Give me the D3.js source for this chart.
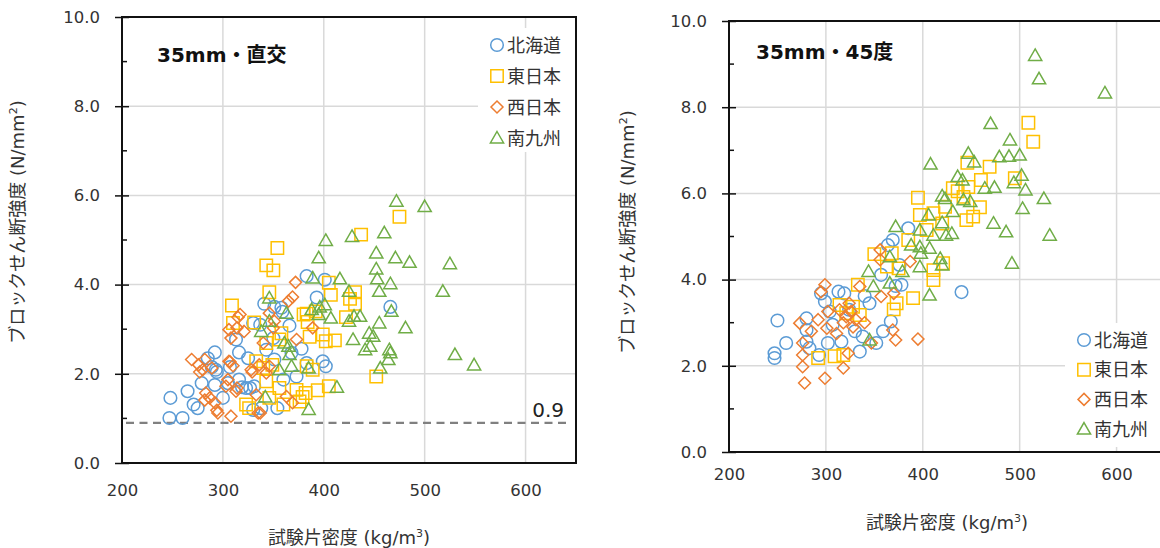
<!DOCTYPE html>
<html>
<head>
<meta charset="utf-8">
<script src="https://cdn.jsdelivr.net/npm/d3@7"></script>
<style>
  body { margin: 0; background: #fff; }
  svg { display: block; }
</style>
</head>
<body>
<div class="container"></div>
<script>
var w = 1160;
var h = 548;

var seriesNames = ["北海道", "東日本", "西日本", "南九州"];
var seriesColors = ["#5B9BD5", "#FFC000", "#ED7D31", "#70AD47"];
var seriesShapes = ["circle", "square", "diamond", "triangle"];

var xTicks = [200, 300, 400, 500, 600];
var yTicks = [0, 2, 4, 6, 8, 10];
var yMinorTicks = [1, 3, 5, 7, 9];
var limitValue = 0.9;

// 35mm・直交  [密度, 強度]
var leftHokkaido = [[383,4.19],[401,4.11],[393,3.71],[341,3.57],[351,3.50],[358,3.48],[466,3.50],[366,3.08],[330,3.14],[337,3.10],[313,2.77],[316,2.48],[292,2.48],[285,2.35],[293,2.09],[289,2.15],[294,2.04],[279,1.79],[265,1.61],[248,1.46],[247,1.01],[260,1.01],[271,1.31],[275,1.23],[300,1.46],[305,1.79],[316,1.87],[323,1.68],[331,1.72],[338,1.23],[354,1.23],[378,2.56],[399,2.28],[402,2.17],[383,2.24],[373,1.94],[351,2.32],[343,2.54],[350,2.80],[325,2.35],[307,2.15],[360,1.87],[368,2.47],[292,1.75],[330,1.19],[327,1.68],[319,1.70],[359,3.39]];
var leftEast = [[475,5.52],[437,5.12],[354,4.82],[343,4.43],[350,4.32],[346,3.83],[309,3.53],[405,4.04],[407,3.77],[431,3.83],[426,3.68],[431,3.57],[383,3.35],[392,3.40],[422,3.27],[386,2.83],[399,2.88],[402,2.73],[411,2.75],[452,1.94],[331,3.15],[310,3.14],[358,2.91],[356,2.77],[343,2.69],[333,2.28],[340,2.13],[343,1.83],[356,1.68],[373,1.64],[382,1.57],[394,1.63],[405,1.72],[323,1.31],[326,1.23],[346,1.46],[360,1.31],[376,1.38],[349,2.20],[383,2.17],[389,2.09],[380,3.33],[379,1.48],[384,3.16]];
var leftWest = [[372,4.05],[369,3.72],[365,3.63],[317,3.33],[306,2.99],[308,2.80],[314,3.03],[321,2.95],[346,3.36],[351,3.18],[350,3.03],[340,2.69],[373,2.77],[389,3.03],[269,2.32],[276,2.20],[282,2.32],[280,2.09],[289,2.13],[306,2.28],[310,2.18],[328,2.09],[336,2.20],[346,2.17],[343,2.02],[305,1.87],[303,1.72],[313,1.61],[283,1.57],[287,1.46],[292,1.35],[294,1.18],[308,1.05],[333,1.53],[335,1.12],[363,1.49],[369,1.35],[277,2.04],[307,2.27],[315,3.27],[314,1.68],[329,2.04],[337,1.12],[295,1.12],[282,1.41]];
var leftSouth = [[472,5.87],[500,5.75],[460,5.16],[428,5.08],[402,4.99],[452,4.71],[471,4.60],[485,4.50],[525,4.47],[395,4.60],[452,4.35],[453,4.13],[466,4.02],[455,3.85],[518,3.85],[416,4.13],[389,4.15],[425,3.85],[346,3.70],[467,3.40],[388,3.44],[395,3.33],[401,3.55],[407,3.25],[430,3.29],[436,3.29],[425,3.18],[363,3.36],[346,3.18],[338,2.95],[455,3.14],[481,3.03],[429,2.77],[445,2.91],[449,2.84],[441,2.54],[446,2.62],[465,2.54],[466,2.47],[464,2.32],[365,2.62],[366,2.43],[356,2.09],[368,2.17],[385,2.13],[530,2.43],[549,2.20],[456,2.13],[413,1.70],[342,1.48],[385,1.20],[361,2.69],[396,3.50]];

// 35mm・45度
var rightHokkaido = [[385,5.19],[369,4.92],[364,4.80],[376,4.34],[378,3.88],[440,3.71],[357,4.11],[295,3.68],[313,3.72],[319,3.68],[299,3.49],[304,3.26],[345,3.45],[250,3.05],[280,3.10],[280,2.83],[259,2.53],[247,2.29],[247,2.18],[280,2.56],[283,2.41],[293,2.25],[302,2.53],[316,2.56],[335,2.33],[338,2.68],[352,2.53],[359,2.80],[367,3.03],[307,2.95],[340,3.62],[324,3.30],[330,2.80],[372,3.85]];
var rightEast = [[509,7.64],[514,7.20],[446,6.71],[469,6.62],[495,6.35],[460,6.31],[431,6.12],[447,6.15],[442,5.92],[395,5.90],[459,5.68],[423,5.69],[452,5.46],[445,5.38],[397,5.50],[411,5.54],[385,4.92],[404,5.15],[350,4.59],[368,4.61],[363,4.30],[375,4.26],[421,4.38],[411,4.22],[411,3.99],[390,3.57],[333,3.88],[373,3.45],[370,3.31],[314,3.41],[328,3.37],[321,3.22],[335,3.18],[292,2.18],[309,2.22],[318,2.25],[436,6.05],[420,5.30]];
var rightWest = [[299,3.88],[295,3.72],[302,3.26],[273,2.99],[292,3.07],[301,2.87],[276,2.53],[276,2.25],[276,1.98],[278,1.60],[299,1.71],[318,1.95],[323,2.29],[314,3.30],[321,3.14],[326,3.26],[331,3.07],[335,3.84],[356,4.69],[356,4.46],[387,4.42],[357,3.61],[369,2.83],[372,2.60],[395,2.62],[347,2.53],[370,3.68],[318,3.00],[328,2.90],[311,2.75],[324,3.45],[340,3.00],[285,2.80]];
var rightSouth = [[516,9.20],[520,8.66],[588,8.33],[470,7.62],[490,7.24],[500,6.89],[489,6.86],[479,6.85],[447,6.93],[453,6.73],[408,6.68],[502,6.42],[494,6.25],[436,6.39],[441,6.31],[464,6.12],[474,6.14],[506,6.08],[525,5.88],[420,5.94],[423,5.88],[442,5.85],[449,5.81],[503,5.65],[431,5.58],[406,5.50],[420,5.32],[473,5.31],[486,5.11],[531,5.03],[372,5.23],[397,5.15],[411,5.03],[424,5.03],[430,5.07],[388,4.80],[397,4.76],[407,4.73],[366,4.53],[398,4.61],[418,4.49],[420,4.34],[397,4.30],[379,4.19],[344,4.19],[366,3.92],[349,3.84],[492,4.38],[407,3.64],[345,2.60]];

var font = "'DejaVu Sans', 'Noto Sans CJK JP', sans-serif";

function markerPath(shape) {
  if (shape === "circle") {
    var r = 6.3;
    return "M" + r + ",0A" + r + "," + r + " 0 1,1 " + (-r) + ",0A" + r + "," + r + " 0 1,1 " + r + ",0Z";
  }
  if (shape === "square") {
    var s = 6.2;
    return "M" + (-s) + "," + (-s) + "H" + s + "V" + s + "H" + (-s) + "Z";
  }
  if (shape === "diamond") {
    var d = 6;
    return "M0," + (-d) + "L" + d + ",0L0," + d + "L" + (-d) + ",0Z";
  }
  // triangle
  return "M0,-6.5L6.6,5L-6.6,5Z";
}

var svg = d3.select(".container").append("svg")
  .attr("width", w)
  .attr("height", h)
  .attr("viewBox", `0 0 ${w} ${h}`);

svg.append("rect").attr("width", w).attr("height", h).attr("fill", "#fff");

var clip = svg.append("defs").append("clipPath").attr("id", "page")
  .append("rect").attr("width", w).attr("height", h);

function drawPanel(cfg) {
  var g = svg.append("g").attr("clip-path", "url(#page)");

  var x = d3.scaleLinear().domain([200, 650]).range([cfg.left, cfg.right]);
  var y = d3.scaleLinear().domain([0, 10]).range([cfg.bottom, cfg.top]);

  // grid
  g.append("g").selectAll("line").data(xTicks.slice(1)).enter().append("line")
    .attr("x1", d => x(d)).attr("x2", d => x(d))
    .attr("y1", cfg.top).attr("y2", cfg.bottom)
    .attr("stroke", "#D9D9D9").attr("stroke-width", 1.5);
  g.append("g").selectAll("line").data(yTicks.slice(1, -1)).enter().append("line")
    .attr("x1", cfg.left).attr("x2", cfg.right)
    .attr("y1", d => y(d)).attr("y2", d => y(d))
    .attr("stroke", "#D9D9D9").attr("stroke-width", 1.5);

  // legend background (hides grid)
  g.append("rect")
    .attr("x", cfg.legendX - 19).attr("y", cfg.legendY - 17)
    .attr("width", 97).attr("height", 124)
    .attr("fill", "#fff");

  // limit line
  if (cfg.limit) {
    g.append("line")
      .attr("x1", cfg.left + 4).attr("x2", cfg.right - 5)
      .attr("y1", y(limitValue)).attr("y2", y(limitValue))
      .attr("stroke", "#808080").attr("stroke-width", 2.2)
      .attr("stroke-dasharray", "8,5.5");
    g.append("text")
      .attr("x", cfg.right - 12).attr("y", y(limitValue) - 6)
      .attr("text-anchor", "end")
      .attr("font-family", font).attr("font-size", 20)
      .attr("fill", "#222")
      .text(limitValue.toFixed(1));
  }

  // points
  cfg.series.forEach(function (data, i) {
    g.append("g").selectAll("path").data(data).enter().append("path")
      .attr("d", markerPath(seriesShapes[i]))
      .attr("transform", d => `translate(${x(d[0])},${y(d[1])})`)
      .attr("fill", "none")
      .attr("stroke", seriesColors[i])
      .attr("stroke-width", 1.5);
  });

  // frame
  g.append("rect")
    .attr("x", cfg.left).attr("y", cfg.top)
    .attr("width", cfg.right - cfg.left).attr("height", cfg.bottom - cfg.top)
    .attr("fill", "none").attr("stroke", "#111").attr("stroke-width", 2);

  // y axis
  var yAxis = d3.axisLeft(y).tickValues(yTicks).tickSizeInner(7).tickSizeOuter(0)
    .tickPadding(15).tickFormat(d3.format(".1f"));
  var ya = g.append("g").attr("transform", `translate(${cfg.left},0)`).call(yAxis);
  ya.select(".domain").remove();
  ya.selectAll(".tick line").attr("x1", 7).attr("stroke", "#111").attr("stroke-width", 1.5);
  ya.selectAll(".tick text").attr("font-family", font).attr("font-size", 16.5).attr("fill", "#333");

  g.append("g").selectAll("line").data(yMinorTicks).enter().append("line")
    .attr("x1", cfg.left).attr("x2", cfg.left + 5)
    .attr("y1", d => y(d)).attr("y2", d => y(d))
    .attr("stroke", "#111").attr("stroke-width", 1.5);

  // x axis
  var xAxis = d3.axisBottom(x).tickValues(xTicks).tickSize(0).tickPadding(cfg.xPad);
  var xa = g.append("g").attr("transform", `translate(0,${cfg.bottom})`).call(xAxis);
  xa.select(".domain").remove();
  xa.selectAll(".tick text").attr("font-family", font).attr("font-size", 16.5).attr("fill", "#333");

  // axis titles
  var xt = g.append("text")
    .attr("x", (cfg.left + cfg.right) / 2).attr("y", cfg.xTitleY)
    .attr("text-anchor", "middle")
    .attr("font-family", font).attr("font-size", 18).attr("fill", "#333");
  xt.append("tspan").text("試験片密度 (kg/m");
  xt.append("tspan").attr("font-size", 11).attr("dy", -7).text("3");
  xt.append("tspan").attr("dy", 7).text(")");

  var yt = g.append("text")
    .attr("transform", `translate(${cfg.yTitleX},${cfg.yTitleY}) rotate(-90)`)
    .attr("text-anchor", "middle")
    .attr("font-family", font).attr("font-size", 18).attr("fill", "#333");
  yt.append("tspan").text("ブロックせん断強度 (N/mm");
  yt.append("tspan").attr("font-size", 11).attr("dy", -7).text("2");
  yt.append("tspan").attr("dy", 7).text(")");

  // panel title
  g.append("text")
    .attr("x", cfg.titleX).attr("y", cfg.titleY)
    .attr("font-family", font).attr("font-size", 20).attr("font-weight", "bold")
    .attr("fill", "#111")
    .text(cfg.title);

  // legend
  var lg = g.append("g");
  seriesNames.forEach(function (name, i) {
    var ly = cfg.legendY + i * cfg.legendStep;
    lg.append("path")
      .attr("d", markerPath(seriesShapes[i]))
      .attr("transform", `translate(${cfg.legendX},${ly})`)
      .attr("fill", "none").attr("stroke", seriesColors[i]).attr("stroke-width", 1.5);
    lg.append("text")
      .attr("x", cfg.legendX + 10).attr("y", ly + 6.5)
      .attr("font-family", font).attr("font-size", 18).attr("fill", "#333")
      .text(name);
  });
}

drawPanel({
  left: 122, right: 576, top: 17, bottom: 463,
  series: [leftHokkaido, leftEast, leftWest, leftSouth],
  limit: true,
  xPad: 21, xTitleY: 544,
  yTitleX: 24, yTitleY: 222,
  title: "35mm・直交", titleX: 157, titleY: 62,
  legendX: 497, legendY: 45, legendStep: 31
});

drawPanel({
  left: 729, right: 1165, top: 21, bottom: 452,
  series: [rightHokkaido, rightEast, rightWest, rightSouth],
  limit: false,
  xPad: 16, xTitleY: 529,
  yTitleX: 634, yTitleY: 232,
  title: "35mm・45度", titleX: 756, titleY: 59,
  legendX: 1084, legendY: 340, legendStep: 29.7
});
</script>
</body>
</html>
